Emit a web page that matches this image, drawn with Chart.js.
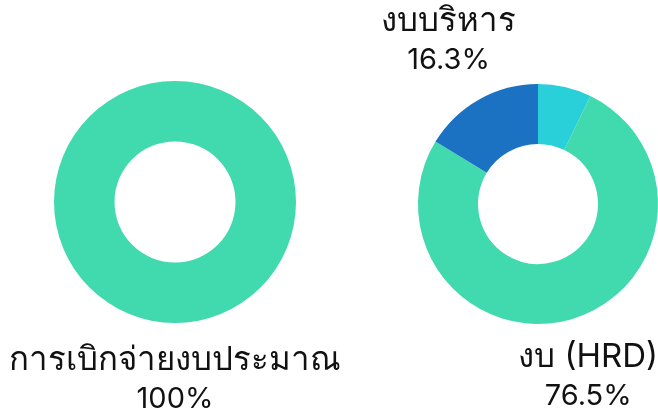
<!DOCTYPE html>
<html>
<head>
<meta charset="utf-8">
<script src="https://cdn.jsdelivr.net/npm/chart.js@4"></script>
<style>
  html, body { margin:0; padding:0; width:658px; height:415px; overflow:hidden; background:#fff; }
  #wrap { position:relative; width:658px; height:415px; overflow:hidden; }
  .c { position:absolute; top:0; }
</style>
</head>
<body>
<div id="wrap">
  <canvas id="left" class="c" style="left:0px" width="350" height="415"></canvas>
  <canvas id="right" class="c" style="left:338px" width="400" height="415"></canvas>
</div>
<script>
// ---- data ----
const leftLabels = ["การเบิกจ่ายงบประมาณ"];
const leftValues = [100];
const rightLabels = ["งบลงทุน", "งบ (HRD)", "งบบริหาร"];
const rightValues = [7.2, 76.5, 16.3];
const leftColors = ["#41d9ae"];
const rightColors = ["#29d0d9", "#41d9ae", "#1b71c2"];

const NAME_FONT = "33px Inter, 'Noto Sans', sans-serif";
const PCT_FONT = "29px Inter, 'Noto Sans', sans-serif";
const LINE_H = 39;
const MIN_PCT = 10;

const outsideLabels = {
  id: 'outsideLabels',
  afterDatasetsDraw(chart) {
    const ctx = chart.ctx;
    const meta = chart.getDatasetMeta(0);
    const ds = chart.data.datasets[0];
    const total = ds.data.reduce((a, b) => a + b, 0);
    ctx.save();
    ctx.fillStyle = '#111';
    ctx.textAlign = 'center';
    ctx.textBaseline = 'middle';
    meta.data.forEach((arc, i) => {
      const pct = ds.data[i] / total * 100;
      if (pct < MIN_PCT) return;
      const p = arc.getProps(['x', 'y', 'startAngle', 'endAngle', 'outerRadius'], true);
      const mid = (p.startAngle + p.endAngle) / 2;
      const vx = Math.cos(mid), vy = Math.sin(mid);
      const name = chart.data.labels[i];
      const pctText = (Math.round(pct * 10) / 10) + '%';
      ctx.font = NAME_FONT;
      const w1 = ctx.measureText(name).width;
      ctx.font = PCT_FONT;
      const w2 = ctx.measureText(pctText).width;
      const halfW = Math.max(w1, w2) / 2, halfH = 72, offset = -15;
      const m = Math.max(Math.abs(vx), Math.abs(vy));
      const cx = p.x + vx * (p.outerRadius + offset) + halfW * vx / m;
      const cy = p.y + vy * (p.outerRadius + offset) + halfH * vy / m;
      ctx.font = NAME_FONT;
      ctx.fillText(name, cx, cy - LINE_H / 2);
      ctx.font = PCT_FONT;
      ctx.fillText(pctText, cx, cy + LINE_H / 2);
    });
    ctx.restore();
  }
};

function makeChart(id, labels, values, colors, padding) {
  return new Chart(document.getElementById(id), {
    type: 'doughnut',
    data: {
      labels: labels,
      datasets: [{ data: values, backgroundColor: colors, borderWidth: 0, hoverOffset: 0 }]
    },
    options: {
      responsive: false,
      animation: false,
      cutout: '50%',
      layout: { padding: padding },
      plugins: { legend: { display: false }, tooltip: { enabled: false } }
    },
    plugins: [outsideLabels]
  });
}

makeChart('left', leftLabels, leftValues, leftColors, { left: 54, right: 54, top: 81, bottom: 92 });
makeChart('right', rightLabels, rightValues, rightColors, { left: 80, right: 80, top: 84, bottom: 91 });
</script>
</body>
</html>
